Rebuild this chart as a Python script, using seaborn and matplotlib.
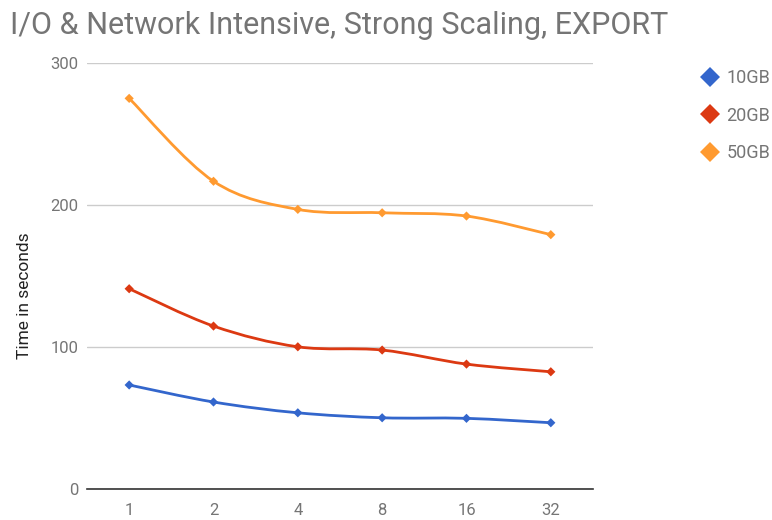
import numpy as np
import pandas as pd
import matplotlib
matplotlib.use("Agg")
import matplotlib.pyplot as plt
from matplotlib.path import Path
from matplotlib.patches import PathPatch
from matplotlib.lines import Line2D
import seaborn as sns

# data
nodes = ["1", "2", "4", "8", "16", "32"]
gb10 = [73.5, 61.5, 53.9, 50.4, 50.0, 46.9]
gb20 = [141.3, 115.0, 100.4, 98.1, 88.2, 82.8]
gb50 = [275.4, 217.0, 197.2, 194.8, 192.5, 179.4]
series_names = ["10GB", "20GB", "50GB"]
colors = ["#3366cc", "#dc3912", "#ff9a30"]

df = pd.DataFrame({
    "nodes": nodes * 3,
    "time": gb10 + gb20 + gb50,
    "size": np.repeat(series_names, len(nodes)),
})

sns.set_style("white")
plt.rcParams['font.family'] = ['Roboto', 'DejaVu Sans']

fig = plt.figure(figsize=(7.72, 5.2), dpi=100)
ax = fig.add_axes([0.1127, 0.059, 0.6554, 0.819])


def smooth_path(xs, ys, k=1/6):
    # catmull-rom style curve through the points, drawn as cubic beziers
    px = np.concatenate([[xs[0]], xs, [xs[-1]]])
    py = np.concatenate([[ys[0]], ys, [ys[-1]]])
    verts = [(xs[0], ys[0])]
    codes = [Path.MOVETO]
    for i in range(1, len(px) - 2):
        c1 = (px[i] + (px[i + 1] - px[i - 1]) * k, py[i] + (py[i + 1] - py[i - 1]) * k)
        c2 = (px[i + 1] - (px[i + 2] - px[i]) * k, py[i + 1] - (py[i + 2] - py[i]) * k)
        verts += [c1, c2, (px[i + 1], py[i + 1])]
        codes += [Path.CURVE4] * 3
    return Path(verts, codes)


xpos = np.arange(len(nodes), dtype=float)
for name, vals, c in zip(series_names, [gb10, gb20, gb50], colors):
    patch = PathPatch(smooth_path(xpos, np.array(vals)), facecolor="none",
                      edgecolor=c, lw=2.0, zorder=3, capstyle="round")
    ax.add_patch(patch)

sns.scatterplot(data=df, x="nodes", y="time", hue="size", palette=colors,
                marker="D", s=22, edgecolor=None, linewidth=0, legend=False,
                zorder=4, ax=ax)

ax.set_xlim(-0.5, 5.5)
ax.set_ylim(0, 300)
ax.set_yticks([0, 100, 200, 300])
ax.set_xticks(xpos)
ax.set_xticklabels(nodes)
ax.grid(axis="y", color="#cccccc", lw=1)
ax.set_axisbelow(True)
for s in ["top", "right", "left"]:
    ax.spines[s].set_visible(False)
ax.spines["bottom"].set_color("#333333")
ax.spines["bottom"].set_linewidth(1.2)
ax.tick_params(axis="both", length=0, labelsize=12, labelcolor="#757575")
ax.tick_params(axis="y", pad=6)
ax.tick_params(axis="x", pad=10)

ax.set_xlabel("")
ax.set_ylabel("Time in seconds", fontsize=12.5, color="#222222")
ax.yaxis.set_label_coords(-0.108, 0.454)

fig.text(0.013, 0.935, "I/O & Network Intensive, Strong Scaling, EXPORT",
         fontsize=22, color="#757575", ha="left", va="baseline")

handles = [Line2D([], [], marker="D", ls="none", color=c, markersize=10, markeredgewidth=0)
           for c in colors]
fig.legend(handles, series_names, loc="upper left", bbox_to_anchor=(0.885, 0.898),
           frameon=False, fontsize=13, labelcolor="#757575", labelspacing=1.08,
           handletextpad=0.3, handlelength=1.2)

fig.savefig("out.png", dpi=100)
